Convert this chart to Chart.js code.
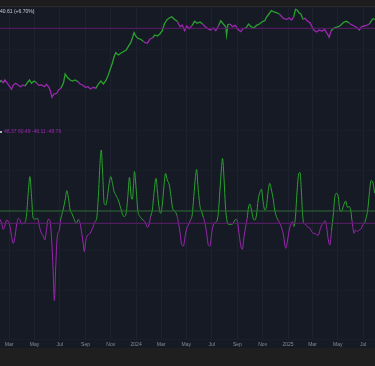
<!DOCTYPE html>
<html>
<head>
<meta charset="utf-8">
<script src="https://cdn.jsdelivr.net/npm/chart.js@4.4.1/dist/chart.umd.min.js"></script>
<style>
    html, body { margin: 0; padding: 0; background: #1f1f1f; overflow: hidden; }
    #wrap { position: relative; width: 375px; height: 366px; }
    #topbar { position: absolute; left: 0; top: 0; width: 375px; height: 7px; background: #1d1d1d; border-bottom: 1px solid #2a2a2a; box-sizing: border-box; }
    #pane { position: absolute; left: 0; top: 7px; width: 375px; height: 341px; background: #161a25; }
    #chartBox { position: absolute; left: 0; top: 0; width: 375px; height: 366px; }
    .legend { position: absolute; font-family: "Liberation Sans", Arial, sans-serif; font-size: 5px; line-height: 6px; white-space: nowrap; }
    #priceLegend { left: 0; top: 8px; color: #c9ccd3; }
    #oscLegend { left: 0; top: 128px; color: #9c27b0; }
    #oscLegend span.box { display: inline-block; width: 2px; height: 2px; background: #b0b3ba; margin-right: 2px; vertical-align: middle; }
</style>
</head>
<body>
<div id="wrap">
    <div id="topbar"></div>
    <div id="pane"></div>
    <div id="chartBox"><canvas id="grafico"></canvas></div>
    <div class="legend" id="priceLegend">40.61 (+6.70%)</div>
    <div class="legend" id="oscLegend"><span class="box"></span>48.37 60.49 -48.11 -48.76</div>
</div>
<script>
// Eixo do tempo: dias contados a partir de 07/02/2023
const tickDays = [22, 83, 144, 206, 267, 328, 388, 449, 510, 572, 633, 694, 753, 814, 875];
const tickLabels = ["Mar", "May", "Jul", "Sep", "Nov", "2024", "Mar", "May", "Jul", "Sep", "Nov", "2025", "Mar", "May", "Jul"];

// Preço (painel de cima)
const priceDays = [0, 2, 8, 12, 18, 22, 28, 32, 38, 44, 50, 55, 60, 66, 71, 76, 82, 88, 93, 100,
    107, 112, 118, 122, 125, 130, 137, 141, 147, 153, 157, 162, 169, 175, 181, 188, 193, 199, 206, 212,
    218, 225, 231, 237, 243, 249, 255, 260, 265, 270, 275, 279, 285, 291, 297, 304, 309, 315, 320, 323,
    327, 332, 339, 345, 350, 355, 361, 368, 373, 379, 385, 391, 396, 402, 407, 414, 420, 427, 434, 439,
    445, 450, 456, 463, 469, 475, 482, 488, 495, 501, 507, 514, 520, 527, 532, 538, 544, 546, 549, 554,
    560, 567, 573, 580, 586, 593, 599, 605, 612, 618, 625, 631, 638, 642, 648, 654, 660, 666, 673, 679,
    684, 691, 697, 703, 708, 712, 716, 720, 725, 730, 735, 740, 747, 752, 756, 763, 769, 776, 782, 788,
    793, 798, 804, 809, 816, 822, 829, 835, 842, 847, 853, 859, 866, 871, 877, 883, 890, 895, 899, 903];
const priceValues = [48.3, 50, 47.3, 50, 46.7, 44, 40.7, 45, 46.7, 44.7, 43.3, 45, 44, 47.3, 50, 46.7, 49, 47.3, 44.7, 45,
    43.3, 45.7, 42.7, 38.3, 32.7, 36, 36.7, 40, 41.7, 47.3, 56, 52.7, 50, 49, 50, 48.3, 46, 45, 42.7, 43.3,
    41, 42.7, 41.7, 46, 49, 46, 49.3, 54, 60, 66, 73.3, 77.3, 75, 76.7, 78.3, 80, 83.3, 87.3, 93.3, 97.3,
    94, 91.7, 90.7, 88.7, 87.3, 86.7, 90.7, 92.3, 95, 94, 96, 99.3, 106, 110, 111.7, 113.3, 110.7, 108.7, 103.3, 105,
    99.3, 104, 101.3, 104.7, 108.7, 106.7, 108, 106, 103.3, 101.3, 100, 102, 99.3, 104.7, 109.3, 106, 103.3, 95, 105.3, 106,
    103.3, 104.7, 100.7, 98.3, 101.3, 102, 106, 103.3, 102, 104.7, 106, 108, 109.3, 112.7, 116, 119.3, 118, 117.3, 116, 113.3,
    111.3, 110.7, 112, 110, 113.3, 120.7, 120, 117.3, 116, 110.7, 111.7, 109.3, 107.3, 103.3, 100, 98, 100, 98.7, 100.7, 96.7,
    92.7, 99.3, 101.7, 102.7, 103.3, 105.3, 108, 108.7, 106.7, 105.3, 104, 102.7, 100, 103.3, 104, 104.7, 106, 109.3, 111.3, 110.7];
// 1 = tendência de alta (verde), 0 = baixa (roxo)
const priceTrend = [1, 1, 0, 0, 0, 0, 0, 0, 0, 0, 0, 0, 0, 1, 1, 1, 1, 1, 0, 0,
    0, 0, 0, 0, 0, 0, 0, 0, 0, 1, 1, 1, 1, 1, 1, 1, 0, 0, 0, 0,
    0, 0, 0, 1, 1, 1, 1, 1, 1, 1, 1, 1, 1, 1, 1, 1, 1, 1, 1, 1,
    1, 1, 1, 1, 0, 0, 0, 0, 1, 1, 1, 1, 1, 1, 1, 1, 1, 1, 0, 0,
    0, 0, 0, 0, 1, 1, 1, 1, 0, 0, 0, 0, 0, 0, 1, 1, 1, 1, 1, 1,
    0, 0, 0, 0, 0, 0, 1, 1, 1, 1, 1, 1, 1, 1, 1, 1, 1, 1, 1, 0,
    0, 0, 0, 0, 0, 1, 1, 1, 1, 1, 0, 0, 0, 0, 0, 0, 0, 0, 0, 0,
    0, 0, 1, 1, 1, 1, 1, 1, 1, 0, 0, 0, 0, 0, 0, 0, 0, 1, 1, 1];
const priceLevel = 101.7;

// Oscilador (painel de baixo)
const oscDays = [0, 4, 8, 12, 16, 20, 24, 28, 32, 36, 40, 44, 48, 52, 56, 60, 64, 68, 72, 76,
    80, 84, 88, 92, 95, 100, 104, 108, 112, 116, 120, 124, 128, 131, 134, 138, 143, 146, 151, 157,
    161, 165, 169, 173, 177, 181, 185, 189, 193, 197, 201, 203, 207, 210, 217, 223, 229, 233, 237, 241,
    244, 247, 251, 255, 259, 263, 267, 271, 275, 279, 285, 291, 296, 299, 304, 308, 312, 316, 319, 322,
    324, 328, 332, 336, 339, 344, 347, 351, 355, 359, 363, 367, 371, 376, 379, 383, 387, 391, 395, 399,
    403, 408, 412, 416, 422, 426, 430, 434, 438, 442, 446, 450, 455, 459, 463, 467, 471, 474, 477, 482,
    486, 490, 494, 498, 502, 506, 510, 514, 518, 522, 526, 530, 534, 536, 540, 543, 546, 550, 554, 558,
    562, 566, 570, 573, 577, 581, 584, 588, 592, 596, 598, 602, 606, 610, 614, 618, 622, 626, 630, 634,
    638, 642, 646, 650, 654, 658, 662, 666, 670, 675, 679, 683, 687, 689, 693, 697, 701, 705, 708, 712,
    716, 720, 723, 726, 729, 732, 736, 740, 747, 751, 755, 759, 763, 767, 771, 775, 779, 783, 787, 791,
    795, 799, 803, 807, 811, 815, 819, 823, 827, 833, 837, 842, 845, 848, 850, 853, 857, 861, 865, 869,
    874, 878, 882, 886, 890, 894, 898, 901, 903];
const oscValues = [4, 0, -6, -1.7, 3.3, 1.7, -3.3, -13.3, -20, -13.3, -1.7, 5, 3.3, -0.7, 0, 0.7, 8.3, 30, 46.7, 26.7,
    5, 4, 5, 3.3, -3.3, -10, -12.7, -16.7, -6.7, 4, 3.3, -13.3, -46.7, -77.3, -46.7, -13.3, -6.7, 3.3, 11.7, 23.3,
    32.7, 25, 13.3, 10, 6, 1.7, 0.7, 4, 0, -10, -21.7, -28.3, -16.7, -12.7, -10, -5, 1.7, 5, 26.7, 60,
    73.3, 53.3, 20, 18.3, 26.7, 40, 46.7, 40, 31.7, 28.3, 23.3, 15, 8.3, 6.7, 10, 26.7, 46, 26.7, 24, 40,
    51.7, 35, 13.3, 7.3, 6, 3.3, 2.7, 0, -4, -1.7, 6.7, 13.3, 30, 45, 33.3, 16.7, 10, 18.3, 36.7, 50,
    43.3, 38.3, 26.7, 15, 11.7, 8.3, 0.7, -10, -21.7, -22.7, -13.3, -5, -0.7, 3.3, 8.3, 26.7, 46.7, 54, 36.7, 16.7,
    11.7, 6, 0, -10, -21.7, -22.7, -10, -1.7, 0.7, 1.7, 10, 33.3, 56.7, 65, 43.3, 18.3, 5, -1, -1, -1,
    0, 3.3, 4, -0.7, -13.3, -24, -26, -13.3, -3.3, 6, 14, 19.3, 13.3, 5, 3.3, 8.3, 23.3, 30.7, 34, 21.7,
    13.3, 16.7, 31.7, 40, 33.3, 25, 13.3, 6.7, 3.3, -0.7, -5, -11.7, -23.3, -25, -16.7, -6.7, -0.7, 1.7, -3.3, 6.7,
    33.3, 50, 50.7, 33.3, 10, 0, -0.7, -3.3, -5, -8.3, -10, -10, -11.7, -11.7, -6.7, -1.7, 0, 2.7, -3.3, -16.7,
    -21.7, -6.7, 8.3, 26.7, 30, 26.7, 13.3, 11.7, 16.7, 22.3, 16, 16.7, 13.3, 3.3, -3.3, -10, -6.7, -8.3, -6.7, -6,
    -1.7, 0, 5, 13.3, 30, 42.7, 41.7, 35, 30];
const oscTrend = [0, 0, 0, 0, 0, 0, 0, 0, 0, 0, 0, 0, 0, 0, 0, 0, 1, 1, 1, 1,
    1, 1, 1, 1, 0, 0, 0, 0, 0, 0, 0, 0, 0, 0, 0, 0, 0, 0, 1, 1,
    1, 1, 1, 1, 1, 1, 1, 1, 0, 0, 0, 0, 0, 0, 0, 0, 0, 1, 1, 1,
    1, 1, 1, 1, 1, 1, 1, 1, 1, 1, 1, 1, 1, 1, 1, 1, 1, 1, 1, 1,
    1, 1, 1, 1, 1, 1, 1, 0, 0, 0, 0, 1, 1, 1, 1, 1, 1, 1, 1, 1,
    1, 1, 1, 1, 1, 1, 0, 0, 0, 0, 0, 0, 0, 0, 1, 1, 1, 1, 1, 1,
    1, 1, 0, 0, 0, 0, 0, 0, 0, 0, 1, 1, 1, 1, 1, 1, 1, 1, 1, 1,
    1, 1, 1, 0, 0, 0, 0, 0, 0, 0, 1, 1, 1, 1, 1, 1, 1, 1, 1, 1,
    1, 1, 1, 1, 1, 1, 1, 1, 1, 0, 0, 0, 0, 0, 0, 0, 0, 0, 0, 1,
    1, 1, 1, 1, 1, 1, 0, 0, 0, 0, 0, 0, 0, 0, 0, 0, 0, 0, 0, 0,
    0, 0, 1, 1, 1, 1, 1, 1, 1, 1, 1, 1, 1, 1, 0, 0, 0, 0, 0, 0,
    0, 0, 1, 1, 1, 1, 1, 1, 1];
const oscUpperLevel = 12.3;
const oscZeroLevel = 0;

const VERDE = "#2aa22e";
const ROXO = "#9c27b0";
const fimEixo = 903.6;

function pontos(dias, valores) {
    return dias.map((d, i) => ({ x: d, y: valores[i] }));
}

function linhaHorizontal(nivel, cor, eixo) {
    return {
        data: [{ x: 0, y: nivel }, { x: fimEixo, y: nivel }],
        yAxisID: eixo,
        borderColor: cor,
        borderWidth: 1,
        pointRadius: 0,
        tension: 0
    };
}

const ctx = document.getElementById("grafico").getContext("2d");
const chart = new Chart(ctx, {
    type: "line",
    data: {
        datasets: [
            linhaHorizontal(priceLevel, "#5a1f68", "yPreco"),
            linhaHorizontal(oscUpperLevel, "#2d6a30", "yOsc"),
            linhaHorizontal(oscZeroLevel, "#5f1f6d", "yOsc"),
            {
                data: pontos(priceDays, priceValues),
                yAxisID: "yPreco",
                borderWidth: 1.3,
                pointRadius: 0,
                tension: 0,
                segment: {
                    borderColor: c => priceTrend[c.p1DataIndex] ? VERDE : ROXO
                }
            },
            {
                data: pontos(oscDays, oscValues),
                yAxisID: "yOsc",
                borderWidth: 1,
                pointRadius: 0,
                cubicInterpolationMode: "monotone",
                segment: {
                    borderColor: c => oscTrend[c.p1DataIndex] ? VERDE : ROXO
                }
            }
        ]
    },
    options: {
        responsive: true,
        maintainAspectRatio: false,
        animation: false,
        layout: { padding: { top: 7, bottom: 15, left: 0, right: 0 } },
        plugins: { legend: { display: false }, tooltip: { enabled: false } },
        scales: {
            x: {
                type: "linear",
                min: 0,
                max: fimEixo,
                border: { display: false },
                grid: { color: "#1d2130", drawTicks: false },
                afterBuildTicks: scale => {
                    scale.ticks = tickDays.map(d => ({ value: d }));
                },
                afterFit: scale => {
                    scale.paddingLeft = 0;
                    scale.paddingRight = 0;
                },
                ticks: {
                    autoSkip: false,
                    maxRotation: 0,
                    padding: 3,
                    color: "#868b95",
                    font: { size: 5, family: "Liberation Sans" },
                    callback: (v, i) => tickLabels[i]
                }
            },
            yPreco: {
                position: "right",
                min: -209,
                max: 123,
                border: { display: false },
                grid: { color: "#1a1e2b", drawTicks: false },
                ticks: { display: false, stepSize: 40 },
                afterFit: scale => { scale.width = 0; }
            },
            yOsc: {
                display: false,
                min: -115.7,
                max: 216.3
            }
        }
    }
});
</script>
</body>
</html>
